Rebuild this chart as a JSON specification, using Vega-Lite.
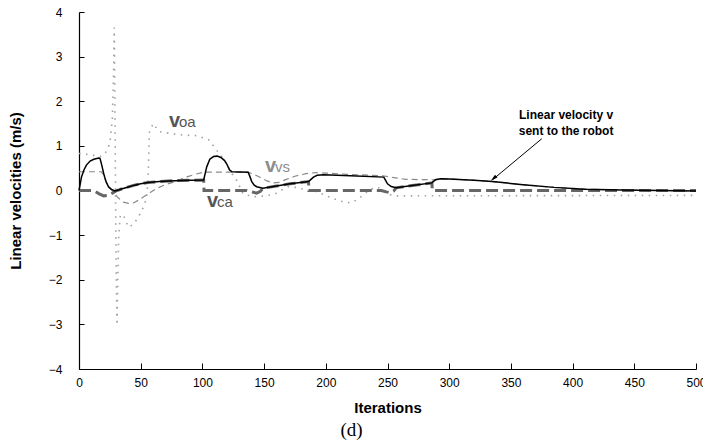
{
  "$schema": "https://vega.github.io/schema/vega-lite/v6.json",
  "width": 617,
  "height": 357,
  "autosize": "none",
  "padding": {"left": 79, "top": 12, "right": 7, "bottom": 78},
  "background": "white",
  "config": {
    "view": {"stroke": null},
    "font": "Liberation Sans",
    "axis": {"grid": false, "domainColor": "black", "tickColor": "black", "labelColor": "black", "titleColor": "black", "labelFont": "Liberation Sans", "titleFont": "Liberation Sans"}
  },
  "title": {"text": "(d)", "orient": "bottom", "font": "Liberation Serif", "fontSize": 19, "fontWeight": "normal", "color": "black", "dx": -36, "offset": 6},
  "datasets": {
    "lines": [
      {"series": "v", "iter": 0, "value": 0}, {"series": "v", "iter": 1, "value": 0.15}, {"series": "v", "iter": 2, "value": 0.3}, {"series": "v", "iter": 4, "value": 0.46}, {"series": "v", "iter": 6, "value": 0.57}, {"series": "v", "iter": 9, "value": 0.66}, {"series": "v", "iter": 12, "value": 0.7}, {"series": "v", "iter": 16, "value": 0.73}, {"series": "v", "iter": 17, "value": 0.72}, {"series": "v", "iter": 18, "value": 0.62}, {"series": "v", "iter": 19, "value": 0.5}, {"series": "v", "iter": 20, "value": 0.38}, {"series": "v", "iter": 21, "value": 0.28}, {"series": "v", "iter": 22, "value": 0.19}, {"series": "v", "iter": 24, "value": 0.08}, {"series": "v", "iter": 26, "value": 0.03}, {"series": "v", "iter": 29, "value": -0.01}, {"series": "v", "iter": 32, "value": 0.01}, {"series": "v", "iter": 35, "value": 0.04}, {"series": "v", "iter": 40, "value": 0.08}, {"series": "v", "iter": 45, "value": 0.12}, {"series": "v", "iter": 50, "value": 0.15}, {"series": "v", "iter": 56, "value": 0.18}, {"series": "v", "iter": 65, "value": 0.2}, {"series": "v", "iter": 78, "value": 0.22}, {"series": "v", "iter": 90, "value": 0.23}, {"series": "v", "iter": 101, "value": 0.235}, {"series": "v", "iter": 102, "value": 0.35}, {"series": "v", "iter": 103.5, "value": 0.53}, {"series": "v", "iter": 106, "value": 0.7}, {"series": "v", "iter": 109, "value": 0.76}, {"series": "v", "iter": 112, "value": 0.77}, {"series": "v", "iter": 115, "value": 0.74}, {"series": "v", "iter": 118, "value": 0.67}, {"series": "v", "iter": 120, "value": 0.58}, {"series": "v", "iter": 122, "value": 0.46}, {"series": "v", "iter": 124, "value": 0.42}, {"series": "v", "iter": 137, "value": 0.41}, {"series": "v", "iter": 138, "value": 0.35}, {"series": "v", "iter": 140, "value": 0.2}, {"series": "v", "iter": 142, "value": 0.12}, {"series": "v", "iter": 144, "value": 0.085}, {"series": "v", "iter": 149, "value": 0.05}, {"series": "v", "iter": 160, "value": 0.1}, {"series": "v", "iter": 171, "value": 0.15}, {"series": "v", "iter": 186, "value": 0.2}, {"series": "v", "iter": 188, "value": 0.25}, {"series": "v", "iter": 190, "value": 0.3}, {"series": "v", "iter": 193, "value": 0.34}, {"series": "v", "iter": 198, "value": 0.355}, {"series": "v", "iter": 220, "value": 0.33}, {"series": "v", "iter": 247, "value": 0.3}, {"series": "v", "iter": 248, "value": 0.25}, {"series": "v", "iter": 250, "value": 0.15}, {"series": "v", "iter": 253, "value": 0.09}, {"series": "v", "iter": 257, "value": 0.06}, {"series": "v", "iter": 270, "value": 0.11}, {"series": "v", "iter": 286, "value": 0.17}, {"series": "v", "iter": 287, "value": 0.2}, {"series": "v", "iter": 289, "value": 0.24}, {"series": "v", "iter": 293, "value": 0.265}, {"series": "v", "iter": 300, "value": 0.26}, {"series": "v", "iter": 320, "value": 0.23}, {"series": "v", "iter": 335, "value": 0.2}, {"series": "v", "iter": 360, "value": 0.13}, {"series": "v", "iter": 385, "value": 0.07}, {"series": "v", "iter": 410, "value": 0.03}, {"series": "v", "iter": 440, "value": 0.01}, {"series": "v", "iter": 470, "value": 0}, {"series": "v", "iter": 500, "value": -0.01},

      {"series": "ca", "iter": 0, "value": 0}, {"series": "ca", "iter": 10, "value": 0}, {"series": "ca", "iter": 13, "value": -0.02}, {"series": "ca", "iter": 16, "value": -0.07}, {"series": "ca", "iter": 20, "value": -0.12}, {"series": "ca", "iter": 24, "value": -0.11}, {"series": "ca", "iter": 27, "value": -0.06}, {"series": "ca", "iter": 30, "value": -0.01}, {"series": "ca", "iter": 32, "value": 0.01}, {"series": "ca", "iter": 35, "value": 0.04}, {"series": "ca", "iter": 40, "value": 0.08}, {"series": "ca", "iter": 45, "value": 0.12}, {"series": "ca", "iter": 50, "value": 0.15}, {"series": "ca", "iter": 56, "value": 0.18}, {"series": "ca", "iter": 65, "value": 0.2}, {"series": "ca", "iter": 78, "value": 0.22}, {"series": "ca", "iter": 90, "value": 0.23}, {"series": "ca", "iter": 101, "value": 0.235}, {"series": "ca", "iter": 101.3, "value": 0}, {"series": "ca", "iter": 136, "value": 0}, {"series": "ca", "iter": 140, "value": -0.03}, {"series": "ca", "iter": 144, "value": -0.06}, {"series": "ca", "iter": 147, "value": -0.02}, {"series": "ca", "iter": 149, "value": 0.05}, {"series": "ca", "iter": 160, "value": 0.1}, {"series": "ca", "iter": 171, "value": 0.15}, {"series": "ca", "iter": 186, "value": 0.2}, {"series": "ca", "iter": 186.3, "value": 0}, {"series": "ca", "iter": 245, "value": 0}, {"series": "ca", "iter": 249, "value": -0.03}, {"series": "ca", "iter": 252, "value": -0.05}, {"series": "ca", "iter": 255, "value": -0.01}, {"series": "ca", "iter": 257, "value": 0.06}, {"series": "ca", "iter": 270, "value": 0.11}, {"series": "ca", "iter": 286, "value": 0.17}, {"series": "ca", "iter": 286.3, "value": 0}, {"series": "ca", "iter": 500, "value": 0},

      {"series": "vs", "iter": 0, "value": 0.42}, {"series": "vs", "iter": 18, "value": 0.42}, {"series": "vs", "iter": 20, "value": 0.35}, {"series": "vs", "iter": 22, "value": 0.2}, {"series": "vs", "iter": 24, "value": 0.1}, {"series": "vs", "iter": 28, "value": -0.05}, {"series": "vs", "iter": 32, "value": -0.17}, {"series": "vs", "iter": 36, "value": -0.26}, {"series": "vs", "iter": 40, "value": -0.29}, {"series": "vs", "iter": 44, "value": -0.28}, {"series": "vs", "iter": 48, "value": -0.22}, {"series": "vs", "iter": 53, "value": -0.13}, {"series": "vs", "iter": 58, "value": -0.04}, {"series": "vs", "iter": 64, "value": 0.06}, {"series": "vs", "iter": 70, "value": 0.13}, {"series": "vs", "iter": 78, "value": 0.2}, {"series": "vs", "iter": 88, "value": 0.31}, {"series": "vs", "iter": 95, "value": 0.37}, {"series": "vs", "iter": 101, "value": 0.41}, {"series": "vs", "iter": 137, "value": 0.41}, {"series": "vs", "iter": 142, "value": 0.36}, {"series": "vs", "iter": 147, "value": 0.29}, {"series": "vs", "iter": 152, "value": 0.22}, {"series": "vs", "iter": 157, "value": 0.17}, {"series": "vs", "iter": 162, "value": 0.18}, {"series": "vs", "iter": 168, "value": 0.25}, {"series": "vs", "iter": 175, "value": 0.32}, {"series": "vs", "iter": 184, "value": 0.38}, {"series": "vs", "iter": 192, "value": 0.4}, {"series": "vs", "iter": 200, "value": 0.39}, {"series": "vs", "iter": 220, "value": 0.36}, {"series": "vs", "iter": 246, "value": 0.33}, {"series": "vs", "iter": 255, "value": 0.29}, {"series": "vs", "iter": 265, "value": 0.25}, {"series": "vs", "iter": 287, "value": 0.24}, {"series": "vs", "iter": 293, "value": 0.265}, {"series": "vs", "iter": 300, "value": 0.26}, {"series": "vs", "iter": 320, "value": 0.23}, {"series": "vs", "iter": 335, "value": 0.2}, {"series": "vs", "iter": 360, "value": 0.13}, {"series": "vs", "iter": 385, "value": 0.07}, {"series": "vs", "iter": 410, "value": 0.03}, {"series": "vs", "iter": 440, "value": 0.01}, {"series": "vs", "iter": 470, "value": 0}, {"series": "vs", "iter": 500, "value": -0.01},

      {"series": "oa", "iter": 0, "value": 0.83}, {"series": "oa", "iter": 10, "value": 0.8}, {"series": "oa", "iter": 17, "value": 0.76}, {"series": "oa", "iter": 21, "value": 0.82}, {"series": "oa", "iter": 25, "value": 1.05}, {"series": "oa", "iter": 27, "value": 1.6}, {"series": "oa", "iter": 28, "value": 2.6}, {"series": "oa", "iter": 28.6, "value": 3.65}, {"series": "oa", "iter": 29.1, "value": 2.0}, {"series": "oa", "iter": 29.6, "value": 0}, {"series": "oa", "iter": 30.2, "value": -2.0}, {"series": "oa", "iter": 30.8, "value": -3.02}, {"series": "oa", "iter": 31.4, "value": -2.0}, {"series": "oa", "iter": 32.2, "value": -1.0}, {"series": "oa", "iter": 33.5, "value": -0.55}, {"series": "oa", "iter": 36, "value": -0.55}, {"series": "oa", "iter": 40, "value": -0.82}, {"series": "oa", "iter": 44, "value": -0.76}, {"series": "oa", "iter": 48, "value": -0.6}, {"series": "oa", "iter": 51, "value": -0.44}, {"series": "oa", "iter": 53, "value": -0.33}, {"series": "oa", "iter": 55, "value": -0.1}, {"series": "oa", "iter": 56, "value": 0.3}, {"series": "oa", "iter": 56.5, "value": 0.75}, {"series": "oa", "iter": 57, "value": 1.3}, {"series": "oa", "iter": 60, "value": 1.5}, {"series": "oa", "iter": 65, "value": 1.32}, {"series": "oa", "iter": 76, "value": 1.27}, {"series": "oa", "iter": 85, "value": 1.24}, {"series": "oa", "iter": 95, "value": 1.23}, {"series": "oa", "iter": 105, "value": 1.14}, {"series": "oa", "iter": 111, "value": 0.92}, {"series": "oa", "iter": 116, "value": 0.75}, {"series": "oa", "iter": 120, "value": 0.58}, {"series": "oa", "iter": 124, "value": 0.38}, {"series": "oa", "iter": 128, "value": 0.22}, {"series": "oa", "iter": 133, "value": -0.08}, {"series": "oa", "iter": 142, "value": -0.14}, {"series": "oa", "iter": 152, "value": -0.12}, {"series": "oa", "iter": 160, "value": -0.06}, {"series": "oa", "iter": 166, "value": 0.04}, {"series": "oa", "iter": 170, "value": 0.09}, {"series": "oa", "iter": 175, "value": 0.07}, {"series": "oa", "iter": 180, "value": 0.04}, {"series": "oa", "iter": 190, "value": 0}, {"series": "oa", "iter": 198, "value": -0.09}, {"series": "oa", "iter": 205, "value": -0.17}, {"series": "oa", "iter": 212, "value": -0.24}, {"series": "oa", "iter": 220, "value": -0.28}, {"series": "oa", "iter": 226, "value": -0.2}, {"series": "oa", "iter": 231, "value": -0.08}, {"series": "oa", "iter": 237, "value": 0.03}, {"series": "oa", "iter": 242, "value": 0.08}, {"series": "oa", "iter": 246, "value": 0.0}, {"series": "oa", "iter": 250, "value": -0.08}, {"series": "oa", "iter": 256, "value": -0.12}, {"series": "oa", "iter": 500, "value": -0.11}
    ],
    "labels": [
      {"series": "oa", "iter": 72.9, "value": 1.42, "main": "v", "sub": "oa"},
      {"series": "vs", "iter": 150.7, "value": 0.415, "main": "v", "sub": "vs"},
      {"series": "ca", "iter": 103.7, "value": -0.38, "main": "v", "sub": "ca"}
    ],
    "note": [
      {"iter": 394.7, "value": 1.6, "text": "Linear velocity v"},
      {"iter": 394.7, "value": 1.244, "text": "sent to the robot"}
    ],
    "arrow": [
      {"iter": 375, "value": 1.16, "iter2": 335.5, "value2": 0.25}
    ],
    "arrowhead": [
      {"iter": 336.3, "value": 0.28}
    ]
  },
  "encoding": {
    "x": {"field": "iter", "type": "quantitative", "scale": {"domain": [0, 500], "nice": false, "zero": false},
      "axis": {"values": [0, 50, 100, 150, 200, 250, 300, 350, 400, 450, 500], "title": "Iterations", "titleFontSize": 15, "titleFontWeight": "bold", "titlePadding": 12, "labelFontSize": 12, "tickSize": -6, "labelPadding": 14, "labelFlush": false, "domainWidth": 1.2, "tickWidth": 1}},
    "y": {"field": "value", "type": "quantitative", "scale": {"domain": [-4, 4], "nice": false, "zero": false},
      "axis": {"values": [-4, -3, -2, -1, 0, 1, 2, 3, 4], "title": "Linear velocities (m/s)", "titleFontSize": 15, "titleFontWeight": "bold", "titlePadding": 25, "labelFontSize": 12, "tickSize": -5, "labelPadding": 22, "labelFlush": false, "domainWidth": 1.2, "tickWidth": 1}}
  },
  "layer": [
    {"data": {"name": "lines"}, "transform": [{"filter": "datum.series === 'oa'"}],
      "mark": {"type": "line", "color": "#a0a0a0", "strokeWidth": 1.6, "strokeDash": [1.5, 5.5], "clip": true}},
    {"data": {"name": "lines"}, "transform": [{"filter": "datum.series === 'vs'"}],
      "mark": {"type": "line", "color": "#8a8a8a", "strokeWidth": 1.2, "strokeDash": [6, 4]}},
    {"data": {"name": "lines"}, "transform": [{"filter": "datum.series === 'ca'"}],
      "mark": {"type": "line", "color": "#666666", "strokeWidth": 3, "strokeDash": [12, 5]}},
    {"data": {"name": "lines"}, "transform": [{"filter": "datum.series === 'v'"}],
      "mark": {"type": "line", "color": "black", "strokeWidth": 1.5}},
    {"data": {"name": "labels"},
      "mark": {"type": "text", "align": "left", "baseline": "alphabetic", "fontSize": 20, "fontWeight": "bold"},
      "encoding": {"text": {"field": "main"}, "color": {"field": "series", "type": "nominal", "scale": {"domain": ["oa", "vs", "ca"], "range": ["#555555", "#8c8c8c", "#555555"]}, "legend": null}}},
    {"data": {"name": "labels"},
      "mark": {"type": "text", "align": "left", "baseline": "alphabetic", "fontSize": 15, "dx": 10},
      "encoding": {"text": {"field": "sub"}, "color": {"field": "series", "type": "nominal", "scale": {"domain": ["oa", "vs", "ca"], "range": ["#555555", "#8c8c8c", "#555555"]}, "legend": null}}},
    {"data": {"name": "note"},
      "mark": {"type": "text", "align": "center", "baseline": "alphabetic", "fontSize": 12, "fontWeight": "bold", "color": "black"},
      "encoding": {"text": {"field": "text"}}},
    {"data": {"name": "arrow"},
      "mark": {"type": "rule", "color": "black", "strokeWidth": 1},
      "encoding": {"x2": {"field": "iter2"}, "y2": {"field": "value2"}}},
    {"data": {"name": "arrowhead"},
      "mark": {"type": "point", "shape": "M0,-1L0.45,0.7L-0.45,0.7Z", "filled": true, "color": "black", "size": 70, "angle": 230, "opacity": 1}}
  ]
}
